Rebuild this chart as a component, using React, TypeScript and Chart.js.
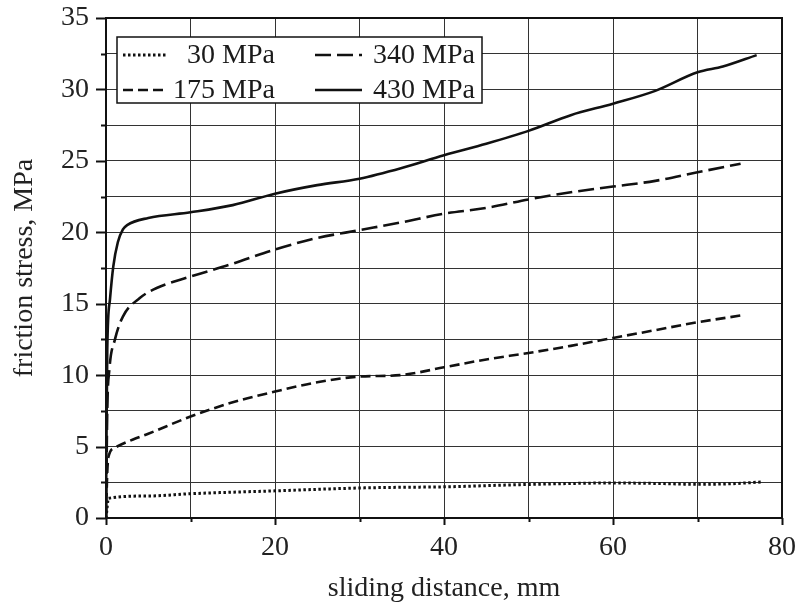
import React, { useEffect, useRef } from "react";
import { Chart, registerables } from "chart.js";

Chart.register(...registerables);

const FONT = "'Liberation Serif', 'Times New Roman', serif";

// 30 MPa (dotted)
const dist30 = [0, 0.3, 5, 10, 20, 30, 35, 40, 50, 60, 65, 70, 74, 77.5];
const stress30 = [0, 1.38, 1.54, 1.7, 1.9, 2.1, 2.15, 2.18, 2.35, 2.45, 2.42, 2.36, 2.4, 2.52];

// 175 MPa (short dashes)
const dist175 = [0, 0.15, 0.3, 1, 3.2, 5, 10, 15, 20, 25, 30, 34.8, 40, 45, 50, 55, 60, 65, 70, 75.4];
const stress175 = [0, 3.2, 4.3, 4.9, 5.5, 5.9, 7.1, 8.1, 8.85, 9.5, 9.9, 10.0, 10.55, 11.1, 11.55, 12.05, 12.6, 13.15, 13.7, 14.2];

// 340 MPa (long dashes)
const dist340 = [0, 0.15, 0.4, 1.06, 2, 4, 6, 10, 15, 20, 25, 30, 35, 40, 45, 50, 55, 60, 65, 70, 75.1];
const stress340 = [0, 7.5, 10.4, 12.5, 14.1, 15.4, 16.1, 16.9, 17.8, 18.8, 19.6, 20.15, 20.7, 21.3, 21.7, 22.3, 22.8, 23.2, 23.6, 24.2, 24.8];

// 430 MPa (solid)
const dist430 = [0, 0.05, 0.15, 0.47, 0.86, 1.4, 2, 2.5, 5, 10, 15, 20, 25, 30, 35, 40, 45, 50, 55, 60, 65, 70, 73, 77];
const stress430 = [0, 5, 11.8, 15.3, 17.6, 19.3, 20.2, 20.5, 21.0, 21.4, 21.9, 22.7, 23.3, 23.75, 24.5, 25.4, 26.2, 27.1, 28.2, 29.0, 29.9, 31.2, 31.6, 32.4];

const seriesLabels = ["30 MPa", "175 MPa", "340 MPa", "430 MPa"];
const seriesDashes = [[2.5, 2.5], [10, 5], [16, 6], []];
const seriesWidths = [3, 2.6, 2.6, 2.6];

const xTitle = "sliding distance, mm";
const yTitle = "friction stress, MPa";

const pts = (xs: number[], ys: number[]) => xs.map((x, i) => ({ x, y: ys[i] }));

const frameAndTicks = {
  id: "frameAndTicks",
  afterDraw(chart: any) {
    const { ctx, chartArea: a, scales } = chart;
    const xs = scales.x;
    const ys = scales.y;
    ctx.save();
    ctx.strokeStyle = "#111";
    ctx.lineWidth = 2;
    ctx.strokeRect(a.left, a.top, a.right - a.left, a.bottom - a.top);
    ctx.lineWidth = 2;
    for (let v = 0; v <= 35.001; v += 2.5) {
      const py = Math.round(ys.getPixelForValue(v)) + 0.5;
      const len = Math.abs(v % 5) < 0.01 ? 10 : 5;
      ctx.beginPath();
      ctx.moveTo(a.left - len, py);
      ctx.lineTo(a.left, py);
      ctx.stroke();
    }
    for (let v = 0; v <= 80.001; v += 10) {
      const px = Math.round(xs.getPixelForValue(v)) + 0.5;
      const len = Math.abs(v % 20) < 0.01 ? 7 : 4;
      ctx.beginPath();
      ctx.moveTo(px, a.bottom);
      ctx.lineTo(px, a.bottom + len);
      ctx.stroke();
    }
    ctx.restore();
  },
};

const legendBox = {
  id: "legendBox",
  afterDatasetsDraw(chart: any) {
    const { ctx } = chart;
    const left = 117, top = 37, right = 482, bottom = 103;
    ctx.save();
    ctx.fillStyle = "#fff";
    ctx.fillRect(left, top, right - left, bottom - top);
    ctx.strokeStyle = "#111";
    ctx.lineWidth = 1.5;
    ctx.strokeRect(left, top, right - left, bottom - top);
    const rows = [55, 90];
    const items = [
      { i: 0, col: 0, row: 0 },
      { i: 1, col: 0, row: 1 },
      { i: 2, col: 1, row: 0 },
      { i: 3, col: 1, row: 1 },
    ];
    const cols = [
      { l0: 123, l1: 168, tx: 275 },
      { l0: 315, l1: 362, tx: 475 },
    ];
    ctx.font = `28px ${FONT}`;
    ctx.textAlign = "right";
    ctx.textBaseline = "middle";
    ctx.fillStyle = "#1a1a1a";
    for (const it of items) {
      const c = cols[it.col];
      const y = rows[it.row];
      ctx.beginPath();
      ctx.setLineDash(seriesDashes[it.i]);
      ctx.lineWidth = seriesWidths[it.i];
      ctx.strokeStyle = "#111";
      ctx.moveTo(c.l0, y);
      ctx.lineTo(c.l1, y);
      ctx.stroke();
      ctx.setLineDash([]);
      ctx.fillText(seriesLabels[it.i], c.tx, y + 1);
    }
    ctx.restore();
  },
};

export default function App() {
  const ref = useRef<HTMLCanvasElement | null>(null);
  useEffect(() => {
    if (!ref.current) return;
    const data = [
      pts(dist30, stress30),
      pts(dist175, stress175),
      pts(dist340, stress340),
      pts(dist430, stress430),
    ];
    const chart = new Chart(ref.current, {
      type: "line",
      data: {
        datasets: data.map((d, i) => ({
          label: seriesLabels[i],
          data: d,
          borderColor: "#111",
          borderWidth: seriesWidths[i],
          borderDash: seriesDashes[i],
          pointRadius: 0,
          fill: false,
          cubicInterpolationMode: "monotone" as const,
        })),
      },
      options: {
        animation: false,
        responsive: false,
        maintainAspectRatio: false,
        layout: { padding: { top: 18, right: 13, left: 0, bottom: 0 } },
        plugins: {
          legend: { display: false },
          tooltip: { enabled: false },
        },
        scales: {
          x: {
            type: "linear",
            min: 0,
            max: 80,
            afterFit(scale: any) {
              scale.height = 87;
              scale.paddingLeft = 0;
              scale.paddingRight = 0;
            },
            ticks: {
              stepSize: 10,
              padding: 13,
              color: "#222",
              font: { family: FONT, size: 28 },
              maxRotation: 0,
              autoSkip: false,
              callback: (v: any) => (Number(v) % 20 === 0 ? String(v) : ""),
            },
            grid: { color: "#333", lineWidth: 1, drawTicks: false },
            border: { display: true, color: "#111", width: 2 },
            title: {
              display: true,
              text: xTitle,
              color: "#222",
              font: { family: FONT, size: 28 },
              padding: { top: 10, bottom: 0 },
            },
          },
          y: {
            type: "linear",
            min: 0,
            max: 35,
            afterFit(scale: any) {
              scale.width = 106;
              scale.paddingTop = 0;
              scale.paddingBottom = 0;
            },
            ticks: {
              stepSize: 2.5,
              padding: 17,
              color: "#222",
              font: { family: FONT, size: 28 },
              autoSkip: false,
              callback: (v: any) => (Math.abs(Number(v) % 5) < 0.01 ? String(v) : ""),
            },
            grid: { color: "#333", lineWidth: 1, drawTicks: false },
            border: { display: true, color: "#111", width: 2 },
            title: {
              display: true,
              text: yTitle,
              color: "#222",
              font: { family: FONT, size: 28 },
              padding: { top: 8, bottom: 0 },
            },
          },
        },
      },
      plugins: [frameAndTicks, legendBox],
    });
    return () => chart.destroy();
  }, []);
  return (
    <div style={{ position: "absolute", left: 0, top: 0, width: 795, height: 605, background: "#fff" }}>
      <canvas ref={ref} width={795} height={605} style={{ width: 795, height: 605, display: "block" }} />
    </div>
  );
}
